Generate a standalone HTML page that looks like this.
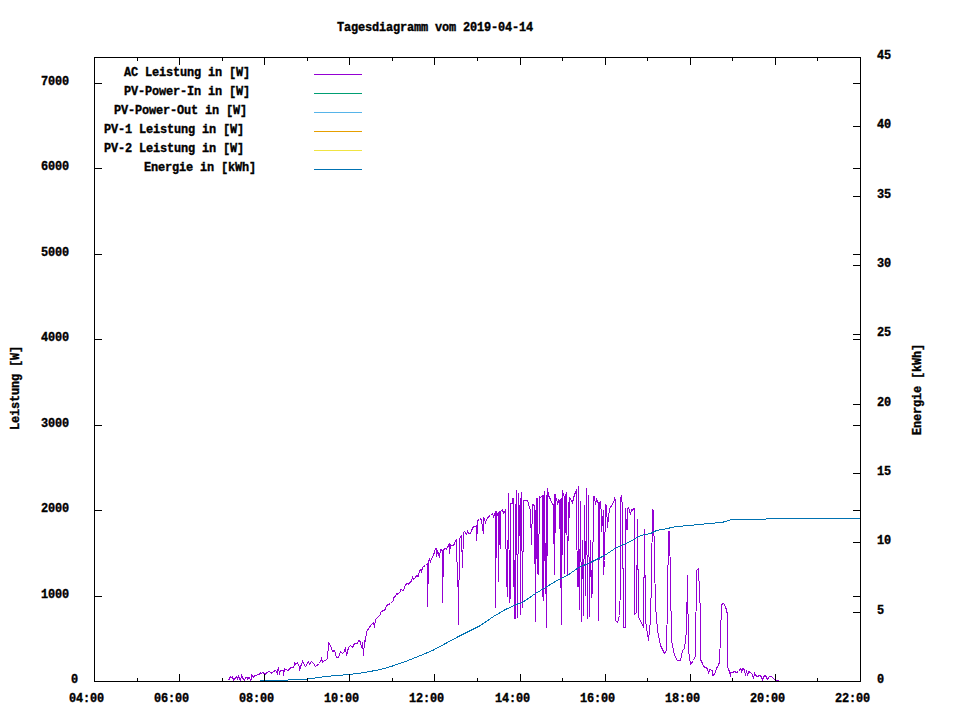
<!DOCTYPE html>
<html><head><meta charset="utf-8"><style>
html,body{margin:0;padding:0;background:#fff;width:960px;height:720px;overflow:hidden}
svg{display:block}
.t{font-family:"Liberation Mono",monospace;font-weight:bold;font-size:11.9px;letter-spacing:-0.14px;fill:#000;stroke:#000;stroke-width:0.35px}
</style></head><body>
<svg width="960" height="720" viewBox="0 0 960 720">
<rect width="960" height="720" fill="#fff"/>
<g fill="none" stroke-width="1" shape-rendering="crispEdges">
<polyline points="228.5,680.5 229.5,678.5 230.5,676.5 231.5,677.5 232.5,676.5 233.5,680.5 234.5,679.5 235.5,677.5 236.5,676.5 237.5,678.5 238.5,676.5 240.5,680.5 241.5,675.5 242.5,677.5 243.5,679.5 244.5,680.5 245.5,677.5 247.5,677.5 247.5,679.5 248.5,677.5 249.5,677.5 250.5,680.5 251.5,679.5 251.5,674.5 252.5,676.5 253.5,677.5 254.5,675.5 259.5,674.5 260.5,672.5 261.5,673.5 262.5,672.5 264.5,673.5 265.5,674.5 266.5,672.5 269.5,671.5 271.5,673.0 273.5,671.5 275.5,670.5 276.5,671.5 277.5,674.5 277.5,670.5 278.5,668.5 279.5,673.5 280.5,670.5 283.5,670.5 283.5,675.5 284.5,668.5 285.5,669.5 288.5,670.5 289.5,668.5 291.5,667.5 293.5,667.5 294.5,664.5 294.5,662.5 295.5,664.5 297.5,662.5 299.5,667.5 299.5,670.5 300.5,666.5 301.5,664.5 302.5,661.5 303.5,663.5 305.5,666.5 308.5,661.5 309.5,664.5 311.5,661.5 313.5,663.5 315.5,666.5 319.5,663.5 321.5,658.5 322.5,662.5 324.5,660.5 327.5,659.5 328.5,642.5 330.5,645.5 332.5,651.5 334.5,650.5 336.5,657.5 338.5,657.5 340.5,651.5 342.5,653.5 344.5,651.5 345.5,647.5 346.5,655.5 348.5,647.5 350.5,645.5 352.5,647.5 354.5,643.5 357.5,643.5 358.5,640.5 360.5,641.5 361.5,647.5 362.5,642.5 363.5,655.5 364.5,640.5 365.5,641.5 366.5,631.5 371.5,624.5 373.5,622.5 374.5,627.5 375.5,619.5 378.5,616.5 380.5,614.5 380.5,612.5 382.5,611.0 384.5,610.5 385.5,608.5 386.5,605.5 388.5,604.5 390.5,603.5 391.5,602.5 393.5,600.5 393.5,597.5 395.5,596.5 396.5,593.5 397.5,593.5 397.5,594.5 400.5,591.5 400.5,589.5 403.5,590.5 403.5,591.0 404.5,587.5 405.5,584.5 407.5,583.5 408.5,584.5 409.5,582.5 410.5,582.5 411.5,580.5 412.5,577.5 413.5,579.5 415.5,577.5 416.5,575.5 418.5,576.5 419.5,570.5 420.5,569.5 421.5,571.5 422.5,567.5 423.5,566.5 425.5,565.5 426.5,564.5 427.5,563.5 427.5,606.5 428.5,563.5 428.5,583.5 428.5,561.5 428.5,561.5 429.5,559.5 430.5,561.5 431.5,558.5 432.5,557.5 433.5,554.5 434.5,552.5 434.5,551.5 435.5,548.5 436.5,548.5 436.5,556.5 437.5,551.5 438.5,553.5 439.5,557.5 440.5,549.5 441.5,549.5 442.5,551.5 442.5,602.5 443.5,553.5 443.5,574.5 443.5,549.5 443.5,549.5 445.5,548.5 446.5,549.0 447.5,547.5 448.5,545.5 449.5,543.5 449.5,553.5 450.5,544.5 451.5,545.5 453.5,545.5 454.5,543.5 455.5,540.5 456.5,539.5 457.5,583.5 458.5,589.5 458.5,624.5 459.5,538.5 460.5,537.5 461.5,535.5 462.5,567.5 463.5,532.5 464.5,531.5 466.5,534.5 467.5,531.5 468.5,533.5 470.5,533.5 471.5,530.5 472.5,528.5 473.5,526.5 475.5,526.5 476.5,525.5 476.5,540.5 477.5,528.5 477.5,520.5 479.5,519.5 480.5,518.5 481.5,520.5 482.5,527.5 483.5,533.5 483.5,517.5 484.5,519.5 485.5,522.5 486.5,519.5 487.5,518.5 488.5,516.5 490.5,515.5 491.5,514.5 492.5,513.5 493.5,516.5 494.5,514.5 495.5,511.5 495.5,607.5 496.5,511.5 497.5,514.5 498.5,512.5 498.5,581.5 499.5,511.5 500.5,548.5 500.5,511.5 502.5,509.5 503.5,513.5 504.5,512.5 505.5,509.5 506.5,586.5 507.5,540.5 507.5,596.5 508.5,493.5 509.5,602.5 510.5,595.5 510.5,503.5 512.5,503.5 512.5,498.5 513.5,498.5 513.5,555.5 514.5,618.5 515.5,504.5 515.5,618.5 516.5,490.5 517.5,617.5 518.5,493.5 519.5,520.5 519.5,505.5 520.5,565.5 520.5,497.5 520.5,614.5 521.5,492.5 522.5,607.5 523.5,500.5 527.5,500.5 530.5,510.5 531.5,544.5 532.5,504.5 534.5,505.5 534.5,563.5 535.5,510.5 535.5,621.5 536.5,498.5 537.5,573.5 537.5,498.5 538.5,574.5 539.5,496.5 540.5,497.5 541.5,496.5 542.5,495.5 542.5,596.5 543.5,495.5 543.5,600.5 544.5,491.5 544.5,526.5 545.5,593.5 546.5,495.5 546.5,627.5 547.5,488.5 548.5,495.5 549.5,497.5 550.5,499.5 551.5,502.5 552.5,503.5 553.5,505.5 553.5,543.5 554.5,494.5 554.5,574.5 555.5,494.5 556.5,500.5 557.5,501.5 557.5,504.5 558.5,500.5 559.5,502.5 559.5,499.5 559.5,528.5 560.5,499.5 560.5,587.5 561.5,498.5 561.5,624.5 562.5,490.5 563.5,495.5 564.5,496.5 564.5,573.5 565.5,495.5 566.5,492.5 567.5,575.5 568.5,502.5 568.5,540.5 569.5,497.5 571.5,500.5 572.5,502.5 573.5,498.5 574.5,494.5 575.5,492.5 576.5,489.5 576.5,511.5 577.5,586.5 578.5,586.5 578.5,486.5 579.5,609.5 580.5,501.5 581.5,621.5 582.5,540.5 583.5,615.5 584.5,505.5 585.5,595.5 586.5,488.5 587.5,618.5 588.5,495.5 589.5,616.5 590.5,540.5 591.5,597.5 592.5,591.5 592.5,588.5 593.5,496.5 594.5,496.5 595.5,504.5 596.5,499.5 597.5,501.5 598.5,503.5 598.5,620.5 599.5,502.5 600.5,501.5 601.5,515.5 601.5,531.5 603.5,510.5 603.5,574.5 604.5,560.5 605.5,504.5 606.5,506.5 607.5,527.5 608.5,517.5 609.5,508.5 610.5,507.5 614.5,500.5 614.5,497.5 615.5,501.5 615.5,620.5 617.5,622.5 619.5,615.5 620.5,586.5 620.5,499.5 621.5,495.5 622.5,507.5 623.5,627.5 625.5,627.5 625.5,508.5 626.5,529.5 627.5,529.5 627.5,508.5 628.5,507.5 630.5,514.5 631.5,509.5 632.5,510.5 633.5,508.5 634.5,508.5 634.5,614.5 636.5,612.5 637.5,519.5 638.5,617.5 641.5,622.5 643.5,627.5 644.5,529.5 645.5,620.5 648.5,640.5 650.5,620.5 651.5,577.5 652.5,509.5 653.5,510.5 654.5,560.5 655.5,605.5 657.5,630.5 660.5,645.5 664.5,653.5 666.5,650.5 667.5,600.5 668.5,531.5 669.5,531.5 670.5,580.5 671.5,640.5 674.5,655.5 677.5,660.5 680.5,660.5 682.5,650.5 684.5,648.5 686.5,630.5 687.5,575.5 688.5,650.5 690.5,664.5 693.5,660.5 695.5,655.5 696.5,570.5 698.5,568.5 699.5,592.5 700.5,613.5 700.5,659.5 701.5,661.5 702.5,663.5 703.5,666.5 705.5,667.5 707.5,668.5 708.5,673.5 709.5,669.5 712.5,670.5 712.5,675.5 714.5,674.5 715.5,671.5 716.5,668.5 717.5,666.5 718.5,665.5 719.5,661.5 720.5,636.5 721.5,604.5 723.5,603.5 725.5,606.5 727.5,614.5 727.5,666.5 728.5,669.5 729.5,671.5 730.5,676.5 730.5,672.5 732.5,672.5 734.5,671.5 736.5,672.5 738.5,671.5 739.5,670.5 740.5,668.5 741.5,669.5 741.5,672.5 742.5,668.5 744.5,669.5 745.5,675.5 746.5,670.5 747.5,675.5 748.5,671.5 750.5,672.5 752.5,674.5 753.5,678.5 754.5,673.5 755.5,675.5 757.5,676.5 759.5,675.5 761.5,676.5 762.5,680.5 763.5,676.5 765.5,675.5 767.5,679.5 769.5,676.5 771.5,676.5 773.5,678.5 775.5,680.5 777.5,680.5 779.5,681.5" stroke="#9400d3" fill="none"/><polyline points="259.5,680.5 287.5,680.5 288.5,679.5 307.5,679.0 325.5,676.5 349.5,674.5 364.5,672.5 380.5,669.5 392.5,666.0 405.5,661.5 420.5,655.5 432.5,650.5 445.5,643.5 458.5,636.5 470.5,630.5 480.5,625.5 493.5,616.5 505.5,609.5 517.5,604.0 522.5,602.5 535.5,593.5 545.5,587.5 560.5,578.5 567.5,575.5 578.5,567.5 590.5,562.5 600.5,557.5 604.5,555.5 616.5,547.5 630.5,541.5 635.5,538.5 640.5,535.5 650.5,533.5 656.5,530.5 668.5,528.5 670.5,527.5 678.5,526.5 687.5,525.5 690.5,525.5 698.5,524.5 709.5,523.5 721.5,522.5 725.5,521.5 731.5,519.5 765.5,519.5 766.5,518.5 860.5,518.5" stroke="#0072b2" fill="none"/>
</g>
<g fill="none" stroke-width="1" shape-rendering="crispEdges">
<path d="M314,74.5H362" stroke="#9400d3"/><path d="M314,93.5H362" stroke="#009e73"/><path d="M314,112.5H362" stroke="#56b4e9"/><path d="M314,131.5H362" stroke="#e69f00"/><path d="M314,150.5H362" stroke="#f0e442"/><path d="M314,169.5H362" stroke="#0072b2"/>
<path d="M94,57.5H861M94,681.5H861M94.5,57V682M860.5,57V682M137.5,678V682M137.5,57V61M179.5,674V682M179.5,57V65M222.5,678V682M222.5,57V61M264.5,674V682M264.5,57V65M307.5,678V682M307.5,57V61M349.5,674V682M349.5,57V65M392.5,678V682M392.5,57V61M434.5,674V682M434.5,57V65M477.5,678V682M477.5,57V61M520.5,674V682M520.5,57V65M562.5,678V682M562.5,57V61M605.5,674V682M605.5,57V65M647.5,678V682M647.5,57V61M690.5,674V682M690.5,57V65M732.5,678V682M732.5,57V61M775.5,674V682M775.5,57V65M817.5,678V682M817.5,57V61M94,596.5H102M853,596.5H861M94,510.5H102M853,510.5H861M94,425.5H102M853,425.5H861M94,339.5H102M853,339.5H861M94,254.5H102M853,254.5H861M94,168.5H102M853,168.5H861M94,83.5H102M853,83.5H861M853,612.5H861M853,542.5H861M853,473.5H861M853,404.5H861M853,334.5H861M853,265.5H861M853,196.5H861M853,126.5H861" stroke="#000"/>
</g>
<text x="69" y="702.25" class="t">04:00</text><text x="154" y="702.25" class="t">06:00</text><text x="239" y="702.25" class="t">08:00</text><text x="324" y="702.25" class="t">10:00</text><text x="409" y="702.25" class="t">12:00</text><text x="495" y="702.25" class="t">14:00</text><text x="580" y="702.25" class="t">16:00</text><text x="665" y="702.25" class="t">18:00</text><text x="750" y="702.25" class="t">20:00</text><text x="835" y="702.25" class="t">22:00</text><text x="71" y="683.25" class="t">0</text><text x="41" y="598.25" class="t">1000</text><text x="41" y="512.25" class="t">2000</text><text x="41" y="427.25" class="t">3000</text><text x="41" y="341.25" class="t">4000</text><text x="41" y="256.25" class="t">5000</text><text x="41" y="170.25" class="t">6000</text><text x="41" y="85.25" class="t">7000</text><text x="877" y="683.25" class="t">0</text><text x="877" y="614.25" class="t">5</text><text x="877" y="544.25" class="t">10</text><text x="877" y="475.25" class="t">15</text><text x="877" y="406.25" class="t">20</text><text x="877" y="336.25" class="t">25</text><text x="877" y="267.25" class="t">30</text><text x="877" y="198.25" class="t">35</text><text x="877" y="128.25" class="t">40</text><text x="877" y="59.25" class="t">45</text><text x="337" y="31.25" class="t">Tagesdiagramm vom 2019-04-14</text><text transform="translate(19,430) rotate(-90)" x="0" y="0" class="t">Leistung [W]</text><text transform="translate(921,435) rotate(-90)" x="0" y="0" class="t">Energie [kWh]</text><text x="124" y="76.25" class="t">AC Leistung in [W]</text><text x="124" y="95.25" class="t">PV-Power-In in [W]</text><text x="114" y="114.25" class="t">PV-Power-Out in [W]</text><text x="104" y="133.25" class="t">PV-1 Leistung in [W]</text><text x="104" y="152.25" class="t">PV-2 Leistung in [W]</text><text x="144" y="171.25" class="t">Energie in [kWh]</text>
</svg>
</body></html>
